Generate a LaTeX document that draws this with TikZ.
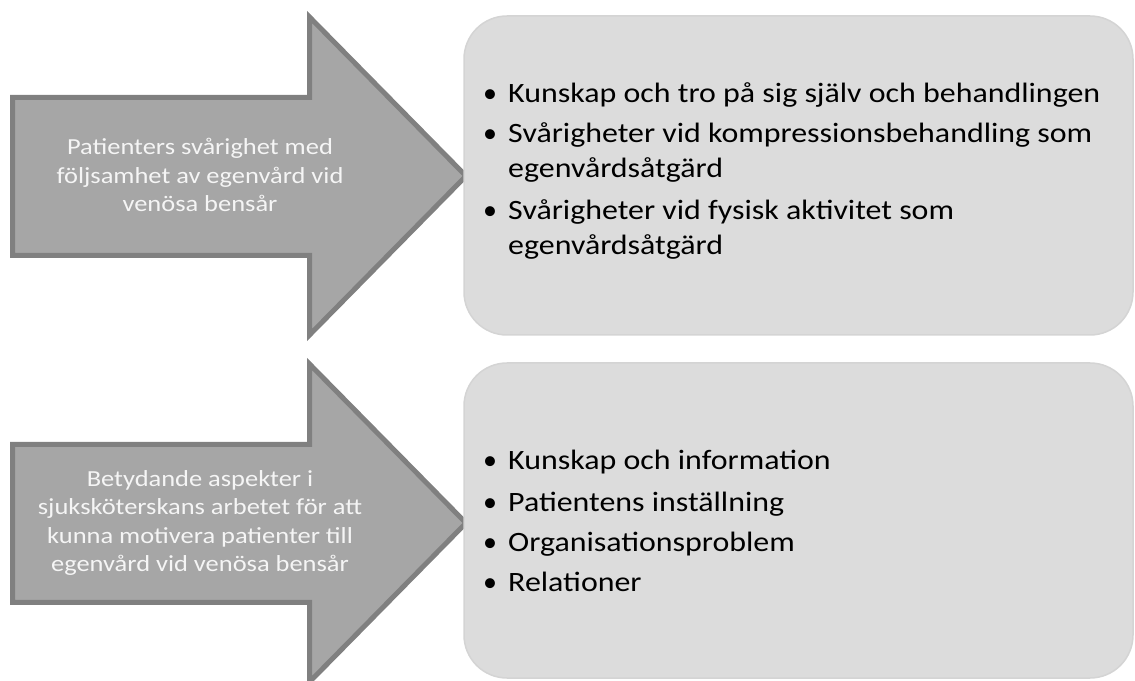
\documentclass[tikz,border=0pt]{standalone}
\usepackage{fontspec}
\setmainfont{Carlito}
\definecolor{arrowfill}{RGB}{166,166,166}
\definecolor{arrowline}{RGB}{128,128,128}
\definecolor{boxfill}{RGB}{220,220,220}
\definecolor{boxline}{RGB}{212,212,212}
\definecolor{arrowtext}{RGB}{245,245,245}
\tikzset{
  bigarrow/.style={fill=arrowfill, draw=arrowline, line width=5pt, line join=miter},
  roundbox/.style={fill=boxfill, draw=boxline, line width=1.5pt, rounded corners=43pt},
  arrowlabel/.style={text=arrowtext, align=center, inner sep=0pt, xscale=1.15, transform shape, font=\fontsize{23}{28.6}\selectfont},
  itemtext/.style={anchor=base west, inner sep=0pt, align=left, xscale=1.14, transform shape, font=\fontsize{28}{35}\selectfont, text=black},
  bulletmark/.style={anchor=base, inner sep=0pt, font=\fontsize{28}{35}\selectfont, text=black}
}
\begin{document}
\begin{tikzpicture}[x=1pt,y=1pt]
\useasboundingbox (0,0) rectangle (1135,680);
\begin{scope}
\clip (0,0) rectangle (1135,680);
% top arrow
\draw[bigarrow] (12.5,582.5) -- (309.5,582.5) -- (309.5,663) -- (466,504) -- (309.5,345) -- (309.5,424.5) -- (12.5,424.5) -- cycle;
% bottom arrow
\draw[bigarrow] (12.5,235.5) -- (309.5,235.5) -- (309.5,316) -- (466,157) -- (309.5,-2) -- (309.5,77.5) -- (12.5,77.5) -- cycle;
% boxes
\draw[roundbox] (464,664) rectangle (1133,345);
\draw[roundbox] (464,317) rectangle (1133,2);
\end{scope}
% arrow labels
\node[arrowlabel] (a1) at (200,505) {Patienters svårighet med\\följsamhet av egenvård vid\\venösa bensår};
\node[arrowlabel] (a2) at (200,157) {Betydande aspekter i\\sjuksköterskans arbetet för att\\kunna motivera patienter till\\egenvård vid venösa bensår};
% top box items
\node[bulletmark] (b1) at (490,577) {•};
\node[itemtext] (t1) at (508,577) {Kunskap och tro på sig själv och behandlingen};
\node[bulletmark] (b2) at (490,537) {•};
\node[itemtext] (t2) at (508,537) {Svårigheter vid kompressionsbehandling som};
\node[itemtext] (t2b) at (508,502) {egenvårdsåtgärd};
\node[bulletmark] (b3) at (490,460) {•};
\node[itemtext] (t3) at (508,460) {Svårigheter vid fysisk aktivitet som};
\node[itemtext] (t3b) at (508,425) {egenvårdsåtgärd};
% bottom box items
\node[bulletmark] (c1) at (490,210) {•};
\node[itemtext] (u1) at (508,210) {Kunskap och information};
\node[bulletmark] (c2) at (490,168) {•};
\node[itemtext] (u2) at (508,168) {Patientens inställning};
\node[bulletmark] (c3) at (490,128) {•};
\node[itemtext] (u3) at (508,128) {Organisationsproblem};
\node[bulletmark] (c4) at (490,88) {•};
\node[itemtext] (u4) at (508,88) {Relationer};
\end{tikzpicture}
\end{document}
